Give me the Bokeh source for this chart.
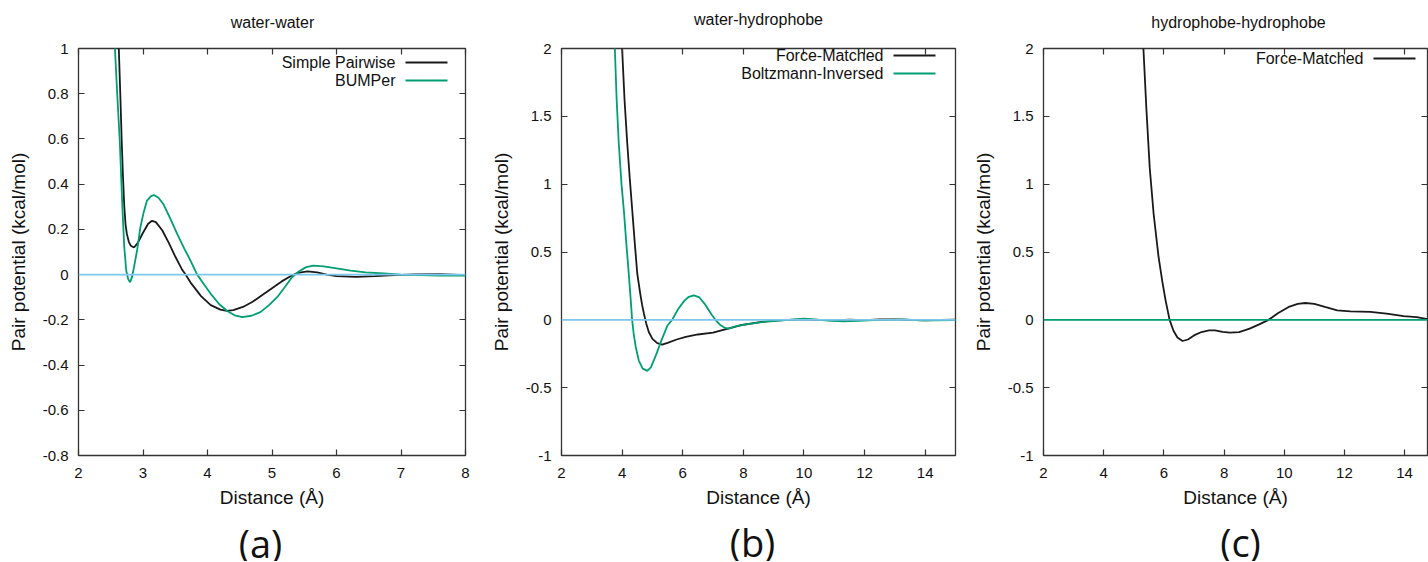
from bokeh.plotting import figure
from bokeh.layouts import row, column
from bokeh.models import Span, Label, Arrow, LinearAxis, FixedTicker, Range1d
from bokeh.embed import file_html
from bokeh.resources import INLINE

# ---------------- data ----------------
# (a) water-water
ww_pair_x = [2.60, 2.625, 2.65, 2.67, 2.69, 2.71, 2.73, 2.75, 2.78, 2.81, 2.86, 2.92, 3.00, 3.08, 3.14,
             3.20, 3.30, 3.40, 3.50, 3.60, 3.66, 3.75, 3.90, 4.05, 4.20, 4.30, 4.40, 4.55, 4.70, 4.85,
             5.00, 5.15, 5.30, 5.40, 5.55, 5.70, 5.85, 6.00, 6.30, 6.60, 6.90, 7.20, 7.60, 8.00]
ww_pair_y = [1.20, 1.00, 0.78, 0.59, 0.43, 0.30, 0.22, 0.18, 0.145, 0.128, 0.12, 0.14, 0.185, 0.225, 0.238,
             0.232, 0.195, 0.14, 0.08, 0.025, 0.0, -0.04, -0.095, -0.135, -0.155, -0.16, -0.157, -0.143, -0.12, -0.09,
             -0.06, -0.03, -0.005, 0.008, 0.014, 0.01, 0.0, -0.007, -0.01, -0.007, -0.002, 0.001, 0.002, -0.002]
ww_bump_x = [2.55, 2.565, 2.60, 2.64, 2.68, 2.71, 2.74, 2.77, 2.80, 2.83, 2.86, 2.91, 2.96, 3.01, 3.06,
             3.12, 3.17, 3.24, 3.32, 3.42, 3.53, 3.64, 3.74, 3.84, 3.95, 4.05, 4.18, 4.30, 4.42, 4.54,
             4.68, 4.82, 4.95, 5.08, 5.20, 5.31, 5.42, 5.53, 5.64, 5.80, 6.00, 6.22, 6.45, 6.73, 7.00,
             7.30, 7.60, 8.00]
ww_bump_y = [1.20, 1.00, 0.80, 0.59, 0.30, 0.12, 0.018, -0.02, -0.034, -0.01, 0.032, 0.11, 0.21, 0.275, 0.326,
             0.346, 0.352, 0.34, 0.31, 0.25, 0.18, 0.115, 0.06, 0.0, -0.045, -0.085, -0.13, -0.16, -0.18, -0.188,
             -0.182, -0.166, -0.136, -0.10, -0.055, -0.012, 0.015, 0.033, 0.04, 0.036, 0.028, 0.018, 0.01, 0.005, 0.0,
             -0.002, -0.004, -0.004]

# (b) water-hydrophobe
wh_fm_x = [3.97, 4.00, 4.08, 4.17, 4.25, 4.33, 4.42, 4.50, 4.60, 4.66, 4.72, 4.80, 4.88, 5.00, 5.16, 5.32,
           5.50, 5.80, 6.10, 6.50, 7.00, 7.40, 7.90, 8.50, 9.00, 9.50, 10.0, 10.5, 11.0, 11.5, 12.0,
           12.5, 13.0, 13.5, 14.0, 14.5, 15.0]
wh_fm_y = [2.10, 2.00, 1.62, 1.30, 1.05, 0.82, 0.56, 0.34, 0.19, 0.11, 0.045, -0.03, -0.09, -0.14, -0.172, -0.183,
           -0.17, -0.145, -0.125, -0.108, -0.095, -0.07, -0.04, -0.018, -0.006, 0.0, 0.004, 0.0, -0.004, 0.002, -0.002,
           0.003, 0.004, 0.0, -0.003, 0.0, 0.001]
wh_bi_x = [3.74, 3.76, 3.82, 3.89, 3.98, 4.06, 4.14, 4.22, 4.28, 4.33, 4.38, 4.45, 4.55, 4.68, 4.83, 4.95,
           5.10, 5.30, 5.50, 5.65, 5.85, 6.05, 6.20, 6.37, 6.55, 6.75, 6.95, 7.08, 7.25, 7.40, 7.52, 7.80,
           8.20, 8.70, 9.20, 9.60, 10.0, 10.4, 10.8, 11.3, 11.8, 12.3, 12.8, 13.3, 13.8, 14.3, 15.0]
wh_bi_y = [2.10, 2.00, 1.62, 1.30, 1.00, 0.80, 0.56, 0.34, 0.16, 0.0, -0.10, -0.20, -0.30, -0.36, -0.376, -0.35,
           -0.27, -0.15, -0.04, 0.0, 0.08, 0.14, 0.17, 0.18, 0.165, 0.11, 0.04, 0.0, -0.04, -0.06, -0.065, -0.045,
           -0.03, -0.015, -0.005, 0.002, 0.008, 0.002, -0.005, -0.012, -0.008, -0.002, 0.0, 0.004, -0.004, -0.003, -0.002]

# (c) hydrophobe-hydrophobe
hh_fm_x = [5.28, 5.32, 5.42, 5.53, 5.66, 5.82, 5.95, 6.06, 6.19, 6.32, 6.45, 6.62, 6.80, 7.00, 7.25,
           7.50, 7.70, 7.95, 8.20, 8.50, 8.85, 9.15, 9.48, 9.80, 10.15, 10.45, 10.70, 11.00, 11.35, 11.76,
           12.20, 12.86, 13.40, 13.97, 14.40, 14.76]
hh_fm_y = [2.10, 2.00, 1.55, 1.12, 0.78, 0.47, 0.28, 0.14, 0.0, -0.08, -0.13, -0.156, -0.145, -0.115, -0.09,
           -0.078, -0.077, -0.088, -0.095, -0.09, -0.065, -0.035, 0.0, 0.05, 0.095, 0.118, 0.124, 0.118, 0.095, 0.07,
           0.062, 0.058, 0.045, 0.027, 0.02, 0.005]

ticks_a_x = [2, 3, 4, 5, 6, 7, 8]
labels_a_x = ["2", "3", "4", "5", "6", "7", "8"]
ticks_a_y = [-0.8, -0.6, -0.4, -0.2, 0, 0.2, 0.4, 0.6, 0.8, 1]
labels_a_y = ["-0.8", "-0.6", "-0.4", "-0.2", "0", "0.2", "0.4", "0.6", "0.8", "1"]
ticks_bc_x = [2, 4, 6, 8, 10, 12, 14]
labels_bc_x = ["2", "4", "6", "8", "10", "12", "14"]
ticks_bc_y = [-1, -0.5, 0, 0.5, 1, 1.5, 2]
labels_bc_y = ["-1", "-0.5", "0", "0.5", "1", "1.5", "2"]

BLACK = "#1a1a1a"
GREEN = "#009e73"
BLUE = "#7fc6ec"
FRAME = "#333333"
TEXT = "#111111"
FONT = "Liberation Sans"
TITLE_H = 35
MAIN_H = 479
LETTER_H = 47


def style_axis(ax, ticks, labels):
    ax.ticker = FixedTicker(ticks=ticks)
    ax.major_label_overrides = {t: l for t, l in zip(ticks, labels)}
    ax.axis_line_color = None
    ax.major_tick_in = 6
    ax.major_tick_out = 0
    ax.major_tick_line_color = FRAME
    ax.major_tick_line_width = 1.2
    ax.minor_tick_line_color = None
    ax.major_label_text_font = FONT
    ax.major_label_text_font_size = "15px"
    ax.major_label_text_color = TEXT
    ax.axis_label_text_font = FONT
    ax.axis_label_text_font_size = "19px"
    ax.axis_label_text_font_style = "normal"
    ax.axis_label_text_color = TEXT


def mirror_axis(ticks):
    ax = LinearAxis(ticker=FixedTicker(ticks=ticks))
    ax.axis_line_color = None
    ax.major_tick_in = 6
    ax.major_tick_out = 0
    ax.major_tick_line_color = FRAME
    ax.major_tick_line_width = 1.2
    ax.minor_tick_line_color = None
    ax.major_label_overrides = {t: "" for t in ticks}
    ax.major_label_standoff = 0
    return ax


def panel(xr, yr, xt, xl, yt, yl, width, bl, br, bt, bb,
          series, zero_color, leg_x, leg_rows):
    p = figure(width=width, height=MAIN_H, x_range=Range1d(*xr), y_range=Range1d(*yr),
               output_backend="svg", toolbar_location=None,
               min_border_left=bl, min_border_right=br, min_border_top=bt, min_border_bottom=bb)
    p.background_fill_color = "white"
    p.border_fill_color = "white"
    p.outline_line_color = FRAME
    p.outline_line_width = 1.3
    p.xgrid.visible = False
    p.ygrid.visible = False

    style_axis(p.xaxis[0], xt, xl)
    style_axis(p.yaxis[0], yt, yl)
    p.xaxis[0].major_label_standoff = 12
    p.yaxis[0].major_label_standoff = 10
    p.xaxis[0].axis_label = "Distance (Å)"
    p.xaxis[0].axis_label_standoff = 6
    p.yaxis[0].axis_label = "Pair potential (kcal/mol)"
    p.yaxis[0].axis_label_standoff = 11
    p.add_layout(mirror_axis(xt), "above")
    p.add_layout(mirror_axis(yt), "right")

    for (name, xs, ys, color), ly in zip(series, leg_rows):
        p.line(xs, ys, line_color=color, line_width=1.8)
        # gnuplot-style key: right-aligned text, then a line sample
        p.add_layout(Label(x=leg_x - 10, y=ly, x_units="screen", y_units="screen", text=name,
                           text_align="right", text_baseline="middle", text_font=FONT,
                           text_font_size="16px", text_color=TEXT))
        p.add_layout(Arrow(end=None, x_start=leg_x, y_start=ly, x_end=leg_x + 42, y_end=ly,
                           start_units="screen", end_units="screen",
                           line_color=color, line_width=1.8))

    p.add_layout(Span(location=0, dimension="width", line_color=zero_color, line_width=1.8))
    return p


def text_fig(text, width, height, cx, cy, font, size):
    f = figure(width=width, height=height, output_backend="svg", toolbar_location=None,
               x_axis_location=None, y_axis_location=None,
               min_border_left=0, min_border_right=0, min_border_top=0, min_border_bottom=0)
    f.outline_line_color = None
    f.xgrid.visible = False
    f.ygrid.visible = False
    f.add_layout(Label(x=cx, y=cy, x_units="screen", y_units="screen", text=text,
                       text_align="center", text_baseline="middle",
                       text_font=font, text_font_size=size, text_color=TEXT))
    return f


ta = text_fig("water-water", 480, TITLE_H, 272, 13, FONT, "16px")
tb = text_fig("water-hydrophobe", 480, TITLE_H, 278, 16, FONT, "16px")
tc = text_fig("hydrophobe-hydrophobe", 468, TITLE_H, 278, 13, FONT, "16px")

pa = panel((2, 8), (-0.8, 1), ticks_a_x, labels_a_x, ticks_a_y, labels_a_y,
           480, 78, 15, 12, 59,
           [("Simple Pairwise", ww_pair_x, ww_pair_y, BLACK), ("BUMPer", ww_bump_x, ww_bump_y, GREEN)],
           BLUE, 327, [393, 375])
pb = panel((2, 15), (-1, 2), ticks_bc_x, labels_bc_x, ticks_bc_y, labels_bc_y,
           480, 81, 5, 8, 54,
           [("Force-Matched", wh_fm_x, wh_fm_y, BLACK), ("Boltzmann-Inversed", wh_bi_x, wh_bi_y, GREEN)],
           BLUE, 332, [400, 382])
pc = panel((2, 14.76), (-1, 2), ticks_bc_x, labels_bc_x, ticks_bc_y, labels_bc_y,
           468, 83, 1, 13, 54,
           [("Force-Matched", hh_fm_x, hh_fm_y, BLACK)],
           GREEN, 330, [397])

la = text_fig("(a)", 480, LETTER_H, 260, 19, "Open Sans", "38px")
lb = text_fig("(b)", 480, LETTER_H, 272, 20, "Open Sans", "38px")
lc = text_fig("(c)", 468, LETTER_H, 280, 20, "Open Sans", "38px")

layout = column(row(ta, tb, tc, spacing=0),
                row(pa, pb, pc, spacing=0),
                row(la, lb, lc, spacing=0), spacing=0)
open("out.html", "w").write(file_html(layout, INLINE))
